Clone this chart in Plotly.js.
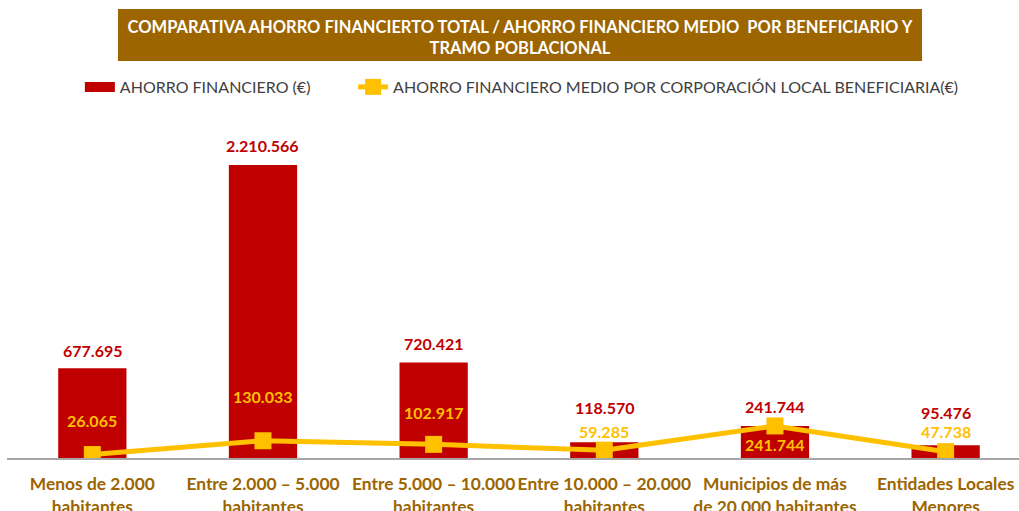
<!DOCTYPE html>
<html><head><meta charset="utf-8">
<script src="https://cdn.plot.ly/plotly-3.0.1.min.js"></script>
<style>body{margin:0;background:#fff}#c{width:1019px;height:511px}</style>
</head><body><div id="c"></div>
<script>
const categories = ["Menos de 2.000<br>habitantes","Entre 2.000 – 5.000<br>habitantes","Entre 5.000 – 10.000<br>habitantes","Entre 10.000 – 20.000<br>habitantes","Municipios de más<br>de 20.000 habitantes","Entidades Locales<br>Menores"];
const ahorroTotal = [677695, 2210566, 720421, 118570, 241744, 95476];
const ahorroMedio = [26065, 130033, 102917, 59285, 241744, 47738];
const barLabelShift = [18, 19, 19, 35, 19, 33];
const lineLabelShift = [34, 44, 32, 19, -19, 20];

const fmt = v => v.toString().replace(/\B(?=(\d{3})+(?!\d))/g, ".");
const FONT = "Lato, 'Open Sans', sans-serif";
const idx = categories.map((_, i) => i);

const traces = [
  {type:"bar", x: idx, y: ahorroTotal, name:"AHORRO FINANCIERO (€)", showlegend:false,
   marker:{color:"#C00000"}, width:0.4, hoverinfo:"y"},
  {type:"scatter", mode:"lines", x:[null], y:[null], name:"AHORRO FINANCIERO (€)", legend:"legend",
   line:{color:"#C00000", width:13}, hoverinfo:"skip"},
  {type:"scatter", mode:"lines+markers", x: idx, y: ahorroMedio, legend:"legend2",
   name:"AHORRO FINANCIERO MEDIO POR CORPORACIÓN LOCAL BENEFICIARIA(€)",
   line:{color:"#FFC000", width:5}, marker:{symbol:"square", size:17, color:"#FFC000"}, hoverinfo:"y"}
];

const ann = [];
idx.forEach(i => {
  ann.push({x:i, y:ahorroTotal[i], xref:"x", yref:"y", text:fmt(ahorroTotal[i]), showarrow:false,
    yanchor:"middle", yshift:barLabelShift[i], font:{family:FONT, size:16, color:"#C00000", weight:700}});
  ann.push({x:i, y:ahorroMedio[i], xref:"x", yref:"y", text:fmt(ahorroMedio[i]), showarrow:false,
    yanchor:"middle", yshift:lineLabelShift[i], font:{family:FONT, size:16, color:"#FFC000", weight:700}});
});

const legFont = {family:FONT, size:16, color:"#404040"};
const layout = {
  width:1019, height:511,
  margin:{l:7, r:0, t:110, b:53},
  paper_bgcolor:"#fff", plot_bgcolor:"#fff",
  showlegend:true,
  title:{text:"COMPARATIVA AHORRO FINANCIERTO TOTAL / AHORRO FINANCIERO MEDIO  POR BENEFICIARIO Y<br>TRAMO POBLACIONAL",
    font:{family:FONT, size:16.5, color:"#fff", weight:700}, x:520/1019, xanchor:"center", y:1-33/511, yanchor:"middle", yref:"container"},
  shapes:[{type:"rect", xref:"paper", yref:"paper", x0:(118-7)/1012, x1:(922-7)/1012, y0:(458-61)/348, y1:(458-9)/348,
    fillcolor:"#9C6500", line:{width:0}, layer:"below"}],
  legend:{orientation:"h", x:0.072, xanchor:"left", y:(458-87)/348, yanchor:"middle", font:legFont, itemwidth:30},
  legend2:{orientation:"h", x:0.342, xanchor:"left", y:(458-87)/348, yanchor:"middle", font:legFont, itemwidth:30},
  xaxis:{tickmode:"array", tickvals:idx, ticktext:categories, range:[-0.5, 5.43],
    showline:true, linecolor:"#A6A6A6", linewidth:1.5, ticks:"", showgrid:false, zeroline:false,
    ticklabelstandoff:10,
    tickfont:{family:FONT, size:17.4, color:"#9C6500", weight:700}, fixedrange:true},
  yaxis:{range:[0, 2625000], visible:false, showgrid:false, zeroline:false},
  annotations: ann,
  bargap:0.6
};
Plotly.newPlot("c", traces, layout, {displayModeBar:false, staticPlot:true});
</script></body></html>
